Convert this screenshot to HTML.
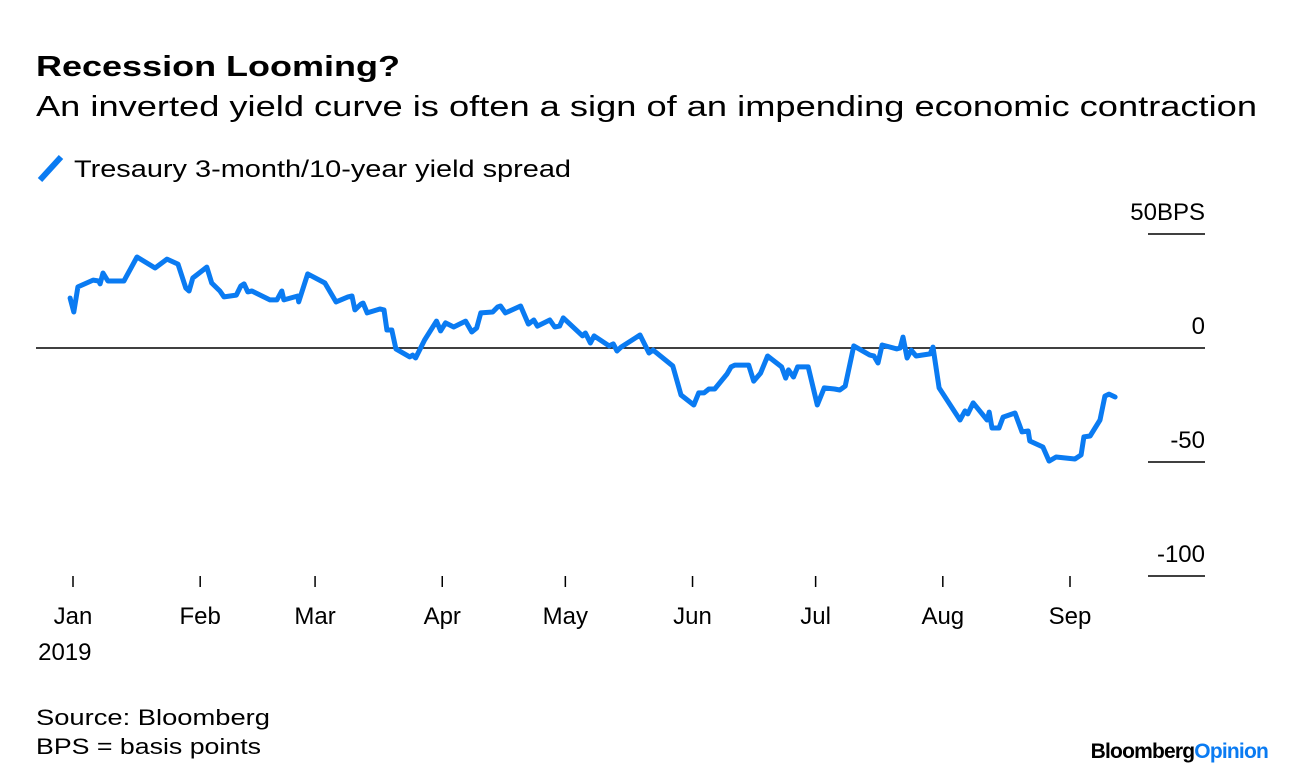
<!DOCTYPE html>
<html><head><meta charset="utf-8"><style>
body{margin:0;background:#fff;font-family:"Liberation Sans",sans-serif;}
svg{display:block}
</style></head><body>
<svg width="1296" height="776">
<text x="36" y="76" font-size="29" font-weight="bold" fill="#000" textLength="364" lengthAdjust="spacingAndGlyphs">Recession Looming?</text>
<text x="36" y="116" font-size="29" fill="#000" textLength="1221" lengthAdjust="spacingAndGlyphs">An inverted yield curve is often a sign of an impending economic contraction</text>
<g>
<line x1="40" y1="180" x2="61" y2="157" stroke="#0a7bf2" stroke-width="6"/>
<text x="74" y="177" font-size="24" fill="#000" textLength="497" lengthAdjust="spacingAndGlyphs">Tresaury 3-month/10-year yield spread</text>
</g>
<g id="yaxis"></g>
<g id="xaxis"></g>
<path id="series" fill="none" stroke="#0a7bf2" stroke-width="5" stroke-linejoin="round" stroke-linecap="round"/>
<text x="36" y="725" font-size="22" fill="#000" textLength="234" lengthAdjust="spacingAndGlyphs">Source: Bloomberg</text>
<text x="36" y="754" font-size="22" fill="#000" textLength="225" lengthAdjust="spacingAndGlyphs">BPS = basis points</text>
<text x="1268" y="758" font-size="21" font-weight="bold" text-anchor="end" letter-spacing="-0.8"><tspan fill="#000">Bloomberg</tspan><tspan fill="#0a7bf2">Opinion</tspan></text>
</svg>
<script>
const days=[-0.7,0.2,1.2,4.9,6.3,6.6,7.3,8.5,12.4,15.6,20.0,22.9,25.6,27.5,28.3,29.2,32.6,33.8,35.8,36.8,39.8,40.9,41.7,42.6,43.6,48.0,49.7,50.9,51.4,54.8,55.0,57.2,61.4,64.1,67.0,68.0,68.7,70.2,70.7,71.7,74.8,75.8,76.5,77.7,78.7,82.1,82.8,83.5,85.7,88.6,89.6,90.8,92.8,95.7,97.2,98.4,99.4,102.3,103.5,104.2,105.4,109.1,111.0,112.3,113.2,116.2,117.4,118.6,119.5,124.2,124.9,126.1,127.0,130.7,131.7,132.6,133.6,138.2,140.4,141.4,146.2,148.2,151.3,152.5,153.8,155.0,156.4,159.4,160.4,161.3,164.2,164.7,165.9,167.6,169.3,172.7,173.7,174.4,175.6,176.6,179.2,181.4,183.1,185.6,186.9,188.2,190.3,194.2,195.2,196.2,197.2,200.8,201.6,202.3,203.3,204.3,205.5,208.9,209.6,211.1,216.2,217.4,218.1,219.4,222.8,223.3,224.0,225.7,226.7,229.6,231.3,232.8,233.2,236.4,237.9,239.6,244.2,245.7,246.4,247.9,250.3,251.5,252.5,254.0];
const spread=[21.9,15.8,26.8,29.8,29.4,28.1,32.9,29.4,29.4,39.9,35.1,39.0,36.8,26.3,25.0,30.7,35.5,28.5,25.0,22.4,23.2,27.2,28.1,24.6,25.0,21.1,21.1,25.0,21.1,22.8,20.2,32.5,28.5,20.2,22.4,22.8,16.7,19.3,19.7,15.4,17.1,16.7,7.9,7.9,-0.4,-3.9,-3.1,-4.4,3.5,11.8,7.5,11.0,9.2,11.8,7.0,8.8,15.4,15.8,18.0,18.4,15.4,18.4,10.5,12.3,9.6,12.3,9.2,9.6,13.2,5.3,6.6,2.2,5.3,0.9,1.8,-1.3,0.4,5.7,-2.2,-0.9,-7.9,-20.6,-25.0,-19.7,-19.7,-18.0,-18.0,-11.4,-8.3,-7.5,-7.5,-7.5,-14.5,-11.0,-3.5,-8.3,-13.2,-9.6,-12.7,-8.3,-8.3,-25.0,-17.5,-18.0,-18.4,-16.7,0.9,-3.1,-3.5,-6.6,1.3,-0.4,0,4.8,-4.4,-0.9,-3.5,-2.6,0.4,-17.5,-31.6,-27.6,-28.9,-24.1,-31.6,-28.1,-35.1,-35.1,-30.3,-28.5,-36.8,-36.4,-40.8,-43.4,-49.6,-47.8,-48.7,-46.9,-39.0,-38.6,-31.6,-21.1,-20.2,-21.5];
const monthLabels=["Jan","Feb","Mar","Apr","May","Jun","Jul","Aug","Sep"];
const monthDays=[0,31,59,90,120,151,181,212,243];
const yTicks=[50,0,-50,-100];
const yTickLabels=["50BPS","0","-50","-100"];
const NS="http://www.w3.org/2000/svg";
const X=d=>73+d*(1070-73)/243;
const Y=v=>348-v*2.28;
const ya=document.getElementById('yaxis'), xa=document.getElementById('xaxis');
function mk(tag,attrs,parent,txt){const e=document.createElementNS(NS,tag);for(const k in attrs)e.setAttribute(k,attrs[k]);if(txt!=null)e.textContent=txt;parent.appendChild(e);return e;}
yTicks.forEach((t,i)=>{
  const y=Y(t);
  const l=mk('line',{x1:t===0?36:1148,x2:1205,y1:y,y2:y,stroke:'#000','stroke-width':1.5},ya);
  
  
  const tx=mk('text',{x:1205,y:y-14,'font-size':24,'text-anchor':'end',fill:'#000'},ya,yTickLabels[i]);
  
  
});
monthDays.forEach((d,i)=>{
  const x=X(d);
  const l=mk('line',{x1:x,x2:x,y1:576,y2:587,stroke:'#000','stroke-width':1.5},xa);
  
  
  const tx=mk('text',{x:x,y:624,'font-size':24,'text-anchor':'middle',fill:'#000'},xa,monthLabels[i]);
  
  
});
const yr=mk('text',{x:X(-2),y:660,'font-size':24,'text-anchor':'middle',fill:'#000'},xa,"2019");


document.getElementById('series').setAttribute('d',days.map((d,i)=>(i?'L':'M')+X(d).toFixed(1)+','+Y(spread[i]).toFixed(1)).join(''));
</script>
</body></html>
